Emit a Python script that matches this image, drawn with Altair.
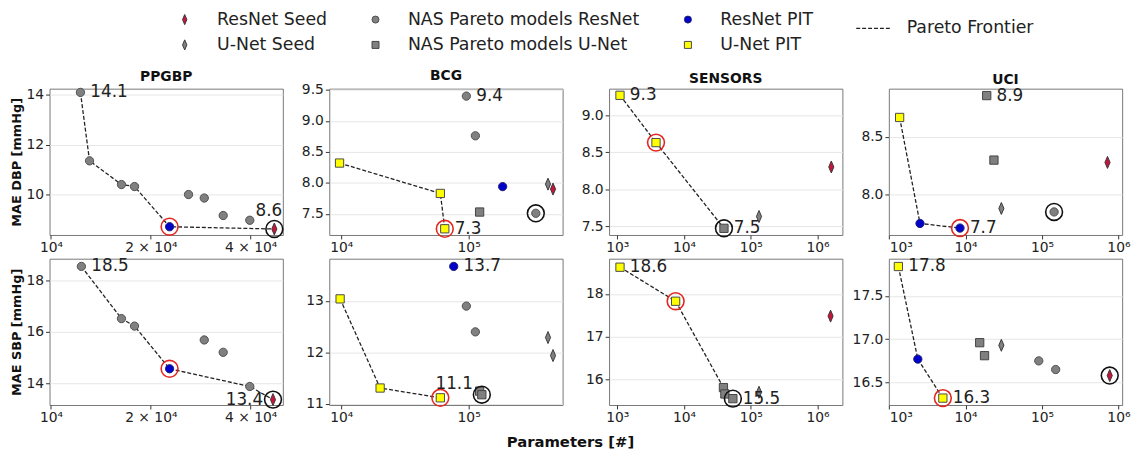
import altair as alt
import pandas as pd

FONT = "DejaVu Sans"

# ---------------- series / legend definitions ----------------
RS, NR, RP = "ResNet Seed", "NAS Pareto models ResNet", "ResNet PIT"
US, NU, UP = "U-Net Seed", "NAS Pareto models U-Net", "U-Net PIT"
PF = "Pareto Frontier"

# legend fills column by column (2 rows)
SERIES = [RS, US, NR, NU, RP, UP]
FILLS = ["#c8143c", "#808080", "#808080", "#808080", "#0000cd", "#ffff00"]
STROKES = ["#3a3a3a", "#3a3a3a", "#505050", "#444444", "#202070", "#4a4a4a"]
DIAMOND = "M0,-1.45L0.62,0L0,1.45L-0.62,0Z"
SHAPES = [DIAMOND, DIAMOND, "circle", "square", "circle", "square"]

# ---------------- panel data: (model, parameters, MAE) ----------------
PPGBP_DBP = [
    (NR, 1.227e4, 14.10), (NR, 1.307e4, 11.36), (NR, 1.631e4, 10.41), (NR, 1.786e4, 10.33),
    (NR, 2.598e4, 10.01), (NR, 2.898e4, 9.87), (NR, 3.305e4, 9.17), (NR, 3.975e4, 8.98),
    (RP, 2.278e4, 8.72), (RS, 4.713e4, 8.63),
]
BCG_DBP = [
    (UP, 9.7e3, 8.32), (UP, 6.0e4, 7.83), (UP, 6.5e4, 7.26),
    (NR, 9.6e4, 9.40), (NR, 1.13e5, 8.76), (NR, 3.37e5, 7.51),
    (NU, 1.22e5, 7.53), (RP, 1.85e5, 7.94), (US, 4.2e5, 7.98), (RS, 4.6e5, 7.90),
]
SENSORS_DBP = [
    (UP, 1.1e3, 9.27), (UP, 3.81e3, 8.63), (NU, 3.97e4, 7.47),
    (US, 1.33e5, 7.63), (RS, 1.61e6, 8.30),
]
UCI_DBP = [
    (UP, 1.37e3, 8.67), (NU, 1.89e4, 8.86), (NU, 2.35e4, 8.30), (RS, 7.2e5, 8.28),
    (US, 2.94e4, 7.88), (NR, 1.44e5, 7.85), (RP, 2.53e3, 7.75), (RP, 8.45e3, 7.71),
]
PPGBP_SBP = [
    (NR, 1.235e4, 18.54), (NR, 1.631e4, 16.51), (NR, 1.786e4, 16.22), (NR, 2.898e4, 15.68),
    (NR, 3.305e4, 15.20), (NR, 3.975e4, 13.87), (RP, 2.278e4, 14.56), (RS, 4.67e4, 13.36),
]
BCG_SBP = [
    (UP, 9.8e3, 13.04), (UP, 2.02e4, 11.31), (UP, 6.0e4, 11.12), (RP, 7.64e4, 13.67),
    (NR, 9.6e4, 12.90), (NR, 1.13e5, 12.40), (NU, 1.22e5, 11.25), (NU, 1.27e5, 11.18),
    (US, 4.2e5, 12.29), (US, 4.6e5, 11.94),
]
SENSORS_SBP = [
    (UP, 1.1e3, 18.63), (UP, 7.5e3, 17.83), (NU, 3.9e4, 15.80), (NU, 4.1e4, 15.65),
    (NU, 5.4e4, 15.54), (US, 1.33e5, 15.69), (RS, 1.57e6, 17.48),
]
UCI_SBP = [
    (UP, 1.32e3, 17.84), (UP, 5.04e3, 16.32), (RP, 2.37e3, 16.77), (NU, 1.53e4, 16.96),
    (NU, 1.77e4, 16.81), (US, 2.94e4, 16.93), (NR, 9.08e4, 16.75), (NR, 1.51e5, 16.65),
    (RS, 7.7e5, 16.58),
]

# highlighted models: (red ring, black ring) as (parameters, MAE)
RINGS = {
    "PPGBP_DBP": [(2.278e4, 8.72), (4.713e4, 8.63)],
    "BCG_DBP": [(6.5e4, 7.26), (3.37e5, 7.51)],
    "SENSORS_DBP": [(3.81e3, 8.63), (3.97e4, 7.47)],
    "UCI_DBP": [(8.45e3, 7.71), (1.44e5, 7.85)],
    "PPGBP_SBP": [(2.278e4, 14.56), (4.67e4, 13.36)],
    "BCG_SBP": [(6.0e4, 11.12), (1.27e5, 11.18)],
    "SENSORS_SBP": [(7.5e3, 17.83), (5.4e4, 15.54)],
    "UCI_SBP": [(5.04e3, 16.32), (7.7e5, 16.58)],
}

# axis ranges and ticks
PPGBP_X = [9.9e3, 5.0e4]
BCG_X = [8.06e3, 5.47e5]
SENSORS_X = [755, 2.36e6]
UCI_X = [9.9e2, 1.12e6]
PPGBP_XT = [1e4, 2e4, 4e4]
BCG_XT = [1e4, 1e5]
WIDE_XT = [1e3, 1e4, 1e5, 1e6]
X_TICK_TEXT = {1e3: "10³", 1e4: "10⁴", 2e4: "2 × 10⁴", 4e4: "4 × 10⁴", 1e5: "10⁵", 1e6: "10⁶"}

PANELS = [
    # key, title, data, xdom, xticks, ydom, yticks, yfmt, label positions (max, min)
    ("PPGBP_DBP", "PPGBP", PPGBP_DBP, PPGBP_X, PPGBP_XT, [8.39, 14.25], [10, 12, 14], "d", ("right", "upper-left")),
    ("BCG_DBP", "BCG", BCG_DBP, BCG_X, BCG_XT, [7.16, 9.52], [7.5, 8.0, 8.5, 9.0, 9.5], ".1f", ("right", "right")),
    ("SENSORS_DBP", "SENSORS", SENSORS_DBP, SENSORS_X, WIDE_XT, [7.38, 9.36], [7.5, 8.0, 8.5, 9.0], ".1f", ("right", "right")),
    ("UCI_DBP", "UCI", UCI_DBP, UCI_X, WIDE_XT, [7.65, 8.92], [8.0, 8.5], ".1f", ("right", "right")),
    ("PPGBP_SBP", None, PPGBP_SBP, PPGBP_X, PPGBP_XT, [13.15, 18.84], [14, 16, 18], "d", ("right", "left")),
    ("BCG_SBP", None, BCG_SBP, BCG_X, BCG_XT, [10.98, 13.82], [11, 12, 13], "d", ("right", "above")),
    ("SENSORS_SBP", None, SENSORS_SBP, SENSORS_X, WIDE_XT, [15.39, 18.83], [16, 17, 18], "d", ("right", "right")),
    ("UCI_SBP", None, UCI_SBP, UCI_X, WIDE_XT, [16.24, 17.93], [16.5, 17.0, 17.5], ".1f", ("right", "right")),
]
Y_TITLES = {"PPGBP_DBP": "MAE DBP [mmHg]", "PPGBP_SBP": "MAE SBP [mmHg]"}

LABEL_STYLE = {
    "right": dict(align="left", dx=10, dy=0),
    "upper-left": dict(align="right", dx=8, dy=-18),
    "left": dict(align="right", dx=-10, dy=0),
    "above": dict(align="center", dx=14, dy=-14),
}

LEGEND = alt.Legend(
    orient="none", legendX=128, legendY=-79, columns=3, title=None,
    labelFont=FONT, labelFontSize=17.5, labelColor="#222", labelLimit=400,
    symbolSize=50, symbolStrokeWidth=1, labelOffset=24, columnPadding=40,
    rowPadding=7, padding=0,
)
LEGEND_LINE = alt.Legend(
    orient="none", legendX=815, legendY=-79, title=None,
    labelFont=FONT, labelFontSize=17.5, labelColor="#222", labelLimit=400,
    symbolType="M-1,0H1", symbolSize=1156, symbolStrokeWidth=1.2, symbolStrokeColor="#222",
    symbolDash=[4, 2], labelOffset=16, padding=0,
)


def pareto(df):
    s = df.sort_values(["params", "mae"])
    out, best = [], float("inf")
    for p, m in zip(s["params"], s["mae"]):
        if m < best:
            out.append((p, m))
            best = m
    out = pd.DataFrame(out, columns=["params", "mae"])
    out["kind"] = PF
    return out


def label_expr(ticks):
    parts = [f"abs(datum.value - {v}) < {v * 1e-6} ? '{X_TICK_TEXT[v]}'" for v in ticks]
    return " : ".join(parts) + " : ''"


def make_panel(key, title, data, xdom, xticks, ydom, yticks, yfmt, lpos):
    df = pd.DataFrame(data, columns=["model", "params", "mae"])
    ytitle = Y_TITLES.get(key)
    x = alt.X("params:Q",
              scale=alt.Scale(type="log", domain=xdom, nice=False),
              axis=alt.Axis(values=xticks, labelExpr=label_expr(xticks), title=None, grid=False))
    yaxis = dict(values=yticks, format=yfmt, grid=True)
    if ytitle:
        yaxis.update(title=ytitle, titleFontSize=13, titleColor="#111", titlePadding=2,
                     minExtent=24, maxExtent=24)
    else:
        yaxis.update(title=None)
    y = alt.Y("mae:Q", scale=alt.Scale(domain=ydom, nice=False, zero=False), axis=alt.Axis(**yaxis))

    front = alt.Chart(pareto(df)).mark_line(strokeWidth=1.3, color="#222").encode(
        x=x, y=y,
        strokeDash=alt.StrokeDash("kind:N", scale=alt.Scale(domain=[PF], range=[[4, 2]]),
                                  legend=LEGEND_LINE),
    )

    pts = alt.Chart(df).mark_point(filled=True, size=70, strokeWidth=1, opacity=1).encode(
        x=x, y=y,
        shape=alt.Shape("model:N", scale=alt.Scale(domain=SERIES, range=SHAPES), legend=LEGEND),
        fill=alt.Fill("model:N", scale=alt.Scale(domain=SERIES, range=FILLS), legend=LEGEND),
        stroke=alt.Stroke("model:N", scale=alt.Scale(domain=SERIES, range=STROKES), legend=LEGEND),
    )

    red, black = RINGS[key]
    ring_red = alt.Chart(pd.DataFrame([red], columns=["params", "mae"])).mark_point(
        shape="circle", filled=False, size=290, strokeWidth=1.6, color="#e3261f", opacity=1
    ).encode(x=x, y=y)
    ring_black = alt.Chart(pd.DataFrame([black], columns=["params", "mae"])).mark_point(
        shape="circle", filled=False, size=290, strokeWidth=1.6, color="#111111", opacity=1
    ).encode(x=x, y=y)

    labels = []
    for idx, pos in zip([df["mae"].idxmax(), df["mae"].idxmin()], lpos):
        st = LABEL_STYLE[pos]
        labels.append(
            alt.Chart(df.loc[[idx]]).mark_text(
                font=FONT, fontSize=17, color="#222", baseline="middle", **st
            ).encode(x=x, y=y, text=alt.Text("mae:Q", format=".1f"))
        )

    props = dict(width=236, height=148)
    if title:
        props["title"] = alt.TitleParams(title, font=FONT, fontSize=14, fontWeight="bold",
                                         color="#111", offset=0)
    return alt.layer(front, pts, ring_red, ring_black, *labels).properties(**props)


charts = [make_panel(*p) for p in PANELS]

chart = alt.concat(
    *charts, columns=4, spacing={"row": 24, "column": 47}, bounds="flush",
    title=alt.TitleParams("Parameters [#]", orient="bottom", anchor="middle", font=FONT,
                          fontSize=15, fontWeight="bold", color="#111", offset=10),
).configure_view(
    stroke="#777", strokeWidth=1
).configure_axis(
    labelFont=FONT, titleFont=FONT, labelFontSize=14, labelColor="#222",
    tickColor="#333", tickSize=4, domain=False, labelPadding=2,
    gridColor="#e6e6e6", gridWidth=1,
).properties(
    padding={"left": 2, "top": 0, "right": 5, "bottom": 5}
)

chart.save("out.html", embed_options={"renderer": "svg", "actions": False})
